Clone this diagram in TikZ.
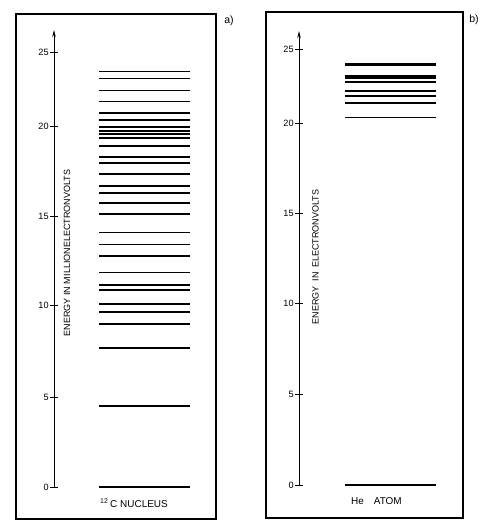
\documentclass[tikz,border=0pt]{standalone}
\usepackage{fontspec}
\setmainfont{Liberation Sans}
\usetikzlibrary{arrows.meta}

\begin{document}
\begin{tikzpicture}[
  x=0.03cm, y=-0.03cm,
  frame/.style={draw, line width=0.9pt},
  axis/.style={line width=0.7pt, -{Stealth[length=6pt,width=3pt]}},
  tick/.style={line width=0.7pt},
  level/.style={line width=1.5pt},
  band/.style={line width=3pt},
  ticklabel/.style={anchor=east, font=\fontsize{7.8}{9}\selectfont, inner sep=1pt},
  axislabel/.style={rotate=90, font=\fontsize{7.7}{9}\selectfont, inner sep=0pt},
  caption/.style={font=\fontsize{8.5}{10}\selectfont, inner sep=0pt},
  panel/.style={font=\fontsize{9}{11}\selectfont, inner sep=0pt}
]
  \useasboundingbox (0,0) rectangle (483,531);

  \draw[frame] (16,14) rectangle (216,519);
  \node[panel] (tagA) at (229,21) {a)};
  \coordinate (aZero) at (54,487);
  \coordinate (aTop) at (54,30);
  \draw[axis] (aZero) -- (aTop);
  \foreach \v/\y in {0/487,5/397,10/305,15/216,20/126,25/52} {
    \draw[tick] (50,\y) -- (58,\y);
    \node[ticklabel] (aTick\v) at (50,\y) {\v};
  }
  \node[axislabel] (aEnergy) at (67,253) {ENERGY IN MILLIONELECTRONVOLTS};
  \foreach \y in {71.5,78.5,90.5,101.5,112.7,119.7,126.7,130.7,134.3,138.3,146,157.3,163.3,174,186,193.3,203.3,213.7,232.5,244.5,256.3,272.5,285,290,303.7,311.7,324,347.7,406,487}
    \draw[level] (99,\y) -- (190,\y);
  \node[caption, anchor=west] (aName) at (100,503) {\textsuperscript{12}\,C NUCLEUS};

  \draw[frame] (266,12) rectangle (463,518);
  \node[panel] (tagB) at (474,20) {b)};
  \coordinate (bZero) at (299,485);
  \coordinate (bTop) at (299,31);
  \draw[axis] (bZero) -- (bTop);
  \foreach \v/\y in {0/485,5/394,10/303,15/213,20/123,25/49} {
    \draw[tick] (295,\y) -- (303,\y);
    \node[ticklabel] (bTick\v) at (295,\y) {\v};
  }
  \node[axislabel] (bEnergy) at (315.5,257) {ENERGY\enspace IN\enspace ELECTRONVOLTS};
  \foreach \y in {64.6,77.2}
    \draw[band] (345,\y) -- (436,\y);
  \foreach \y in {82.3,91.3,96,102.7,117.5,485}
    \draw[level] (345,\y) -- (436,\y);
  \node[caption] (bName) at (376.5,501) {He\quad ATOM};
\end{tikzpicture}
\end{document}
